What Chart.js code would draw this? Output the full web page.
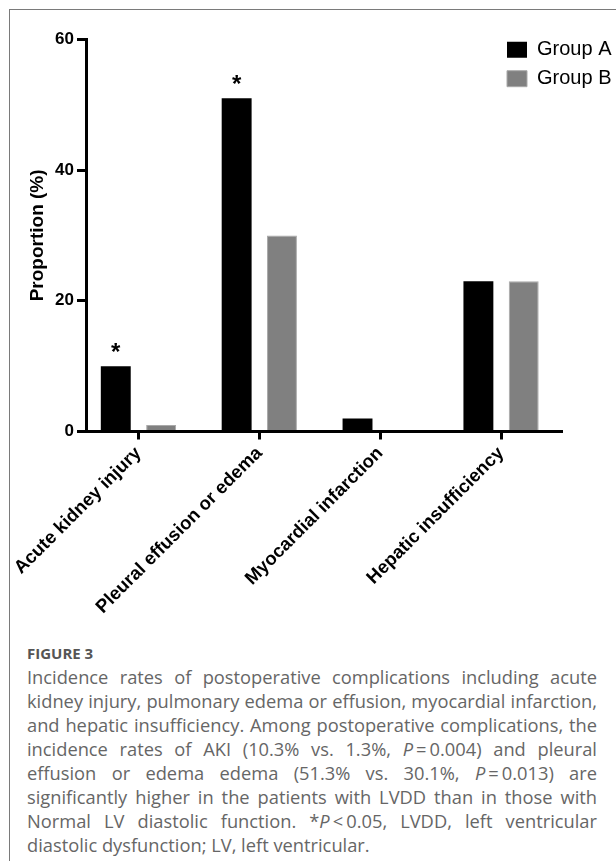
<!DOCTYPE html>
<html><head><meta charset="utf-8">
<script src="https://cdn.jsdelivr.net/npm/chart.js@4.4.1/dist/chart.umd.min.js"></script>
<style>
html,body{margin:0;padding:0;background:#fff;}
body{width:616px;height:861px;position:relative;overflow:hidden;}
#frame{position:absolute;left:9px;top:9px;width:700px;height:900px;border-top:1px solid #7a7a7a;border-left:1px solid #7a7a7a;}
#c{position:absolute;left:0;top:0;}
#fig{position:absolute;left:27px;top:643px;font:bold 15px 'Open Sans',sans-serif;color:#555;line-height:20px;}
#cap{position:absolute;left:27px;top:665px;width:570px;font:18.3px 'Open Sans',sans-serif;color:#666;line-height:24px;}
#cap div{white-space:nowrap;text-align:justify;text-align-last:justify;}
#cap div.last{text-align-last:left;}
</style></head>
<body>
<div id="frame"></div>
<canvas id="c" width="616" height="632"></canvas>
<div id="fig">FIGURE 3</div>
<div id="cap">
<div>Incidence rates of postoperative complications including acute</div>
<div>kidney injury, pulmonary edema or effusion, myocardial infarction,</div>
<div>and hepatic insufficiency. Among postoperative complications, the</div>
<div>incidence rates of AKI (10.3% vs. 1.3%, <i>P</i>&#8201;=&#8201;0.004) and pleural</div>
<div>effusion or edema edema (51.3% vs. 30.1%, <i>P</i>&#8201;=&#8201;0.013) are</div>
<div>significantly higher in the patients with LVDD than in those with</div>
<div>Normal LV diastolic function. *<i>P</i>&#8201;&lt;&#8201;0.05, LVDD, left ventricular</div>
<div class="last">diastolic dysfunction; LV, left ventricular.</div>
</div>
<script>
const categories = ['Acute kidney injury', 'Pleural effusion or edema', 'Myocardial infarction', 'Hepatic insufficiency'];
const seriesNames = ['Group A', 'Group B'];
const groupA = [10, 51, 2, 23];
const groupB = [1, 30, 0, 23];
const significance = ['*', '*', '', ''];
const yTicks = [0, 20, 40, 60];
const yTitle = 'Proportion (%)';

const FONT = "'Liberation Sans', Arial, Helvetica, sans-serif";

const layoutPlugin = {
  id: 'layoutTweak',
  afterLayout(chart) {
    const x = chart.scales.x;
    x.left = 78;
    x.width = x.right - x.left;
    x.configure();
    const lg = chart.legend;
    lg.left = 498;
    lg.right = lg.left + lg.width;
    lg.top = 30.7;
    lg.bottom = lg.top + lg.height;
  }
};

const sigPlugin = {
  id: 'sigMarks',
  afterDatasetsDraw(chart) {
    const meta = chart.getDatasetMeta(0);
    const ctx = chart.ctx;
    ctx.save();
    ctx.font = 'bold 24px ' + FONT;
    ctx.fillStyle = '#000';
    ctx.textAlign = 'center';
    ctx.textBaseline = 'alphabetic';
    significance.forEach((s, i) => {
      if (!s) return;
      const el = meta.data[i];
      ctx.fillText(s, el.x, el.y - 6);
    });
    ctx.restore();
  }
};

new Chart(document.getElementById('c'), {
  type: 'bar',
  data: {
    labels: categories,
    datasets: [
      { label: seriesNames[0], data: groupA, backgroundColor: '#000000', borderColor: '#000000', borderWidth: 0 },
      { label: seriesNames[1], data: groupB, backgroundColor: '#808080', borderColor: '#a9a9a9', borderWidth: 1 }
    ]
  },
  options: {
    responsive: false,
    animation: false,
    events: [],
    layout: { padding: { left: 0, top: 39.3, right: 54.5, bottom: 0 } },
    datasets: { bar: { categoryPercentage: 0.75, barPercentage: 0.66 } },
    plugins: {
      legend: {
        position: 'chartArea',
        align: 'start',
        labels: { boxWidth: 20, boxHeight: 16, padding: 9, color: '#000', font: { family: FONT, size: 20 } }
      },
      tooltip: { enabled: false }
    },
    scales: {
      x: {
        offset: true,
        grid: { display: true, drawOnChartArea: false, drawTicks: true, tickLength: 8, offset: false, color: '#000', lineWidth: 3 },
        border: { display: true, color: '#000', width: 3, z: 1 },
        ticks: { color: '#000', font: { family: FONT, size: 18.5, weight: 'bold' }, minRotation: 45, maxRotation: 45, padding: 3, autoSkip: false },
        afterFit(s) { s.height = 632 - 431.5; }
      },
      y: {
        min: yTicks[0],
        max: yTicks[yTicks.length - 1],
        afterBuildTicks(s) { s.ticks = yTicks.map(v => ({ value: v })); },
        grid: { display: true, drawOnChartArea: false, drawTicks: true, tickLength: 9, color: '#000', lineWidth: 3 },
        border: { display: true, color: '#000', width: 3, z: 1 },
        ticks: { color: '#000', font: { family: FONT, size: 17, weight: 'bold' }, padding: 3 },
        title: { display: true, text: yTitle, color: '#000', font: { family: FONT, size: 19, weight: 'bold', lineHeight: 1.2 }, padding: { top: 26, bottom: 0 } },
        afterFit(s) { s.width = 86; }
      }
    }
  },
  plugins: [layoutPlugin, sigPlugin]
});
</script>
</body></html>
